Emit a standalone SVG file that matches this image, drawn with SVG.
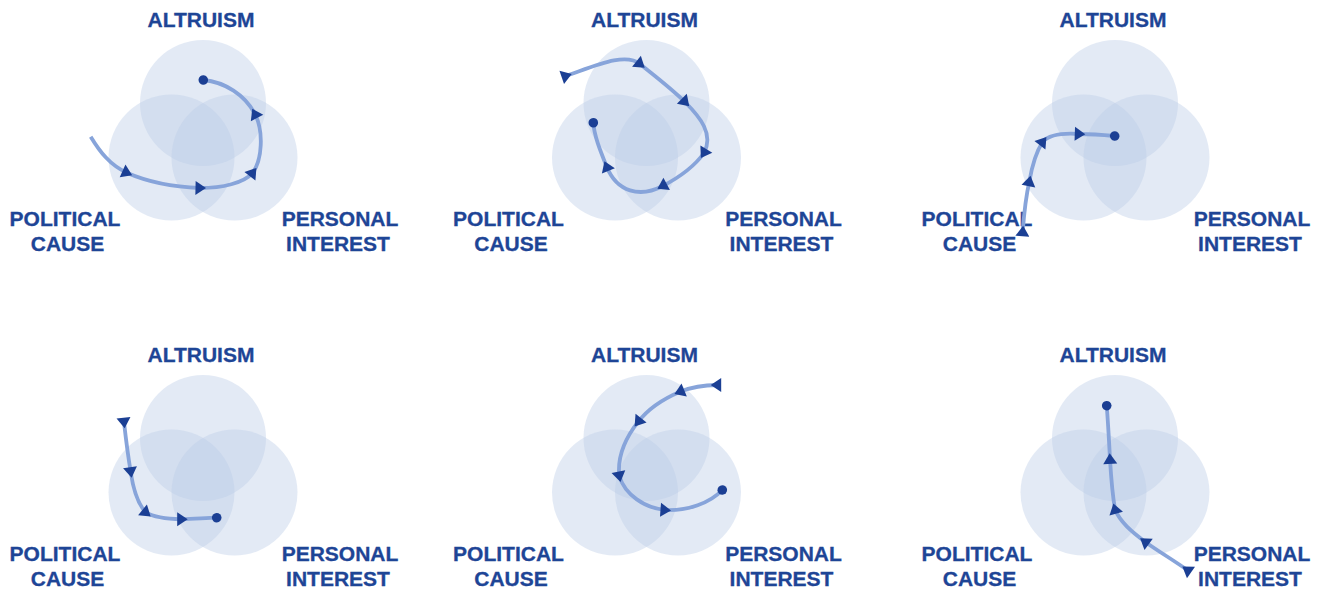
<svg xmlns="http://www.w3.org/2000/svg" width="1322" height="589" viewBox="0 0 1322 589">
<style>
.c{fill:#bccde6;fill-opacity:0.42}
.t{font-family:"Liberation Sans",Arial,sans-serif;font-weight:bold;font-size:21px;fill:#1e4596;text-anchor:middle;stroke:#1e4596;stroke-width:0.3}
.p{fill:none;stroke:#87a4da;stroke-width:3.8;stroke-linecap:butt;marker-start:url(#arr);marker-mid:url(#arr);marker-end:url(#dot)}
.p2{fill:none;stroke:#87a4da;stroke-width:3.8;marker-mid:url(#arr);marker-end:url(#dot)}
</style>
<defs>
<marker id="arr" markerUnits="userSpaceOnUse" viewBox="-8 -9 16 18" markerWidth="16" markerHeight="18" refX="0" refY="0" orient="auto">
<path d="M-4.5,-7 L6,0 L-4.5,7 Z" fill="#1b3f94"/>
</marker>
<marker id="dot" markerUnits="userSpaceOnUse" viewBox="-6 -6 12 12" markerWidth="12" markerHeight="12" refX="0" refY="0" orient="auto">
<circle cx="0" cy="0" r="4.8" fill="#1b3f94"/>
</marker>
</defs>
<rect width="1322" height="589" fill="#ffffff"/>

<g id="panel1">
<circle class="c" cx="203" cy="103" r="63"/>
<circle class="c" cx="171.5" cy="157.5" r="63"/>
<circle class="c" cx="234.5" cy="157.5" r="63"/>
<text class="t" x="201" y="26.5">ALTRUISM</text>
<text class="t" x="65" y="226">POLITICAL</text>
<text class="t" x="67.5" y="251">CAUSE</text>
<text class="t" x="340" y="226">PERSONAL</text>
<text class="t" x="338" y="251">INTEREST</text>
</g>
<g id="panel2" transform="translate(443.5,0)">
<circle class="c" cx="203" cy="103" r="63"/>
<circle class="c" cx="171.5" cy="157.5" r="63"/>
<circle class="c" cx="234.5" cy="157.5" r="63"/>
<text class="t" x="201" y="26.5">ALTRUISM</text>
<text class="t" x="65" y="226">POLITICAL</text>
<text class="t" x="67.5" y="251">CAUSE</text>
<text class="t" x="340" y="226">PERSONAL</text>
<text class="t" x="338" y="251">INTEREST</text>
</g>
<g id="panel3" transform="translate(912,0)">
<circle class="c" cx="203" cy="103" r="63"/>
<circle class="c" cx="171.5" cy="157.5" r="63"/>
<circle class="c" cx="234.5" cy="157.5" r="63"/>
<text class="t" x="201" y="26.5">ALTRUISM</text>
<text class="t" x="65" y="226">POLITICAL</text>
<text class="t" x="67.5" y="251">CAUSE</text>
<text class="t" x="340" y="226">PERSONAL</text>
<text class="t" x="338" y="251">INTEREST</text>
</g>
<g id="panel4" transform="translate(0,335)">
<circle class="c" cx="203" cy="103" r="63"/>
<circle class="c" cx="171.5" cy="157.5" r="63"/>
<circle class="c" cx="234.5" cy="157.5" r="63"/>
<text class="t" x="201" y="26.5">ALTRUISM</text>
<text class="t" x="65" y="226">POLITICAL</text>
<text class="t" x="67.5" y="251">CAUSE</text>
<text class="t" x="340" y="226">PERSONAL</text>
<text class="t" x="338" y="251">INTEREST</text>
</g>
<g id="panel5" transform="translate(443.5,335)">
<circle class="c" cx="203" cy="103" r="63"/>
<circle class="c" cx="171.5" cy="157.5" r="63"/>
<circle class="c" cx="234.5" cy="157.5" r="63"/>
<text class="t" x="201" y="26.5">ALTRUISM</text>
<text class="t" x="65" y="226">POLITICAL</text>
<text class="t" x="67.5" y="251">CAUSE</text>
<text class="t" x="340" y="226">PERSONAL</text>
<text class="t" x="338" y="251">INTEREST</text>
</g>
<g id="panel6" transform="translate(912,335)">
<circle class="c" cx="203" cy="103" r="63"/>
<circle class="c" cx="171.5" cy="157.5" r="63"/>
<circle class="c" cx="234.5" cy="157.5" r="63"/>
<text class="t" x="201" y="26.5">ALTRUISM</text>
<text class="t" x="65" y="226">POLITICAL</text>
<text class="t" x="67.5" y="251">CAUSE</text>
<text class="t" x="340" y="226">PERSONAL</text>
<text class="t" x="338" y="251">INTEREST</text>
</g>

<g id="connectors">
<path class="p2" d="M90.7,136.7 C100,152 110,165 126.7,172.7 C148,182 175,187 200,188 C222,188 244,183 252.7,172.7 C262,160 264,132 255,114 C245,95 225,82 203.3,80"/>
<path class="p" d="M566,76 C595,66 625,52 640,64 C655,76 672,89 685,102 C700,117 714,134 704,153 C694,167 678,178 662.7,186 C640,198 617,192 606.7,166.7 C600,150 594,135 593.3,122.7"/>
<path class="p" d="M1022.7,231.7 C1024,214 1026,196 1029.3,181.7 C1032,166 1036,152 1042.7,141.7 C1050,134 1065,133 1079.3,134 C1092,134 1104,135 1114.7,136"/>
<path class="p" d="M124,422.3 C126,440 128,456 130.7,471.7 C133,488 137,503 146,512.7 C155,518 168,519 181.7,519.3 C194,519 206,518 216.7,517.7"/>
<path class="p" d="M716.7,385 C704,385 692,387 680,391.7 C663,399 648,409 638.3,421.7 C627,436 617,455 619.3,476 C625,495 645,508 665,510 C688,511 710,503 722.3,490"/>
<path class="p" d="M1187.3,570 C1173,560 1158,551 1145,541.7 C1132,532 1120,522 1115,509.3 C1112,492 1111,476 1110,459.3 C1109,440 1108,422 1106.7,405.7"/>
</g>
</svg>
